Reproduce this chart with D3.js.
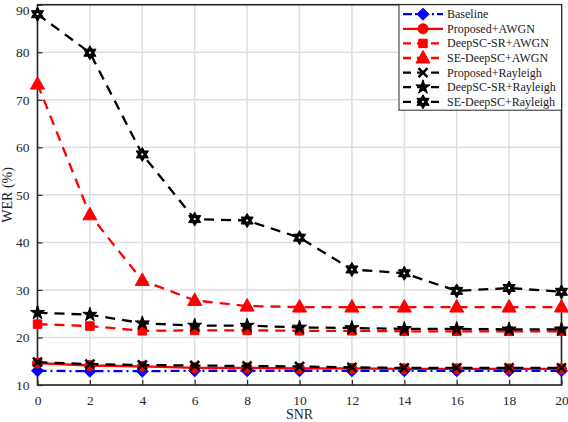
<!DOCTYPE html>
<html>
<head>
<meta charset="utf-8">
<script src="https://cdn.jsdelivr.net/npm/d3@7"></script>
<style>
  body { margin: 0; background: #fff; }
  svg { display: block; font-family: "Liberation Serif", "Times New Roman", serif; }
</style>
</head>
<body>
<div id="chart"></div>
<script>
// SNR values on the x axis
var snr = [0, 2, 4, 6, 8, 10, 12, 14, 16, 18, 20];

// WER (%) for each scheme
var baseline        = [13.0, 12.9, 12.9, 13.0, 13.0, 13.0, 13.0, 13.0, 13.0, 13.0, 13.0];
var proposedAWGN    = [14.6, 14.1, 13.9, 13.6, 13.6, 13.5, 13.5, 13.4, 13.4, 13.4, 13.4];
var deepscsrAWGN    = [22.8, 22.4, 21.4, 21.5, 21.5, 21.4, 21.4, 21.3, 21.3, 21.3, 21.3];
var sedeepscAWGN    = [73.3, 45.8, 32.0, 27.8, 26.6, 26.4, 26.4, 26.4, 26.4, 26.4, 26.4];
var proposedRay     = [14.8, 14.4, 14.2, 14.1, 14.0, 13.9, 13.7, 13.6, 13.6, 13.6, 13.6];
var deepscsrRay     = [25.2, 24.8, 23.0, 22.5, 22.5, 22.1, 22.0, 21.8, 21.8, 21.7, 21.7];
var sedeepscRay     = [88.0, 79.9, 58.5, 44.9, 44.6, 41.0, 34.3, 33.5, 29.8, 30.4, 29.6];

var seriesNames = ["Baseline", "Proposed+AWGN", "DeepSC-SR+AWGN", "SE-DeepSC+AWGN",
                   "Proposed+Rayleigh", "DeepSC-SR+Rayleigh", "SE-DeepSC+Rayleigh"];

var xTicks = [0, 2, 4, 6, 8, 10, 12, 14, 16, 18, 20];
var yTicks = [10, 20, 30, 40, 50, 60, 70, 80, 90];

var series = [
  {name: seriesNames[0], values: baseline,     color: "#0000ff", dash: "9,4,2,4", marker: "diamond"},
  {name: seriesNames[1], values: proposedAWGN, color: "#ff0000", dash: null,      marker: "circle"},
  {name: seriesNames[2], values: deepscsrAWGN, color: "#ff0000", dash: "10,7",    marker: "square"},
  {name: seriesNames[3], values: sedeepscAWGN, color: "#ff0000", dash: "10,7",    marker: "triangle"},
  {name: seriesNames[4], values: proposedRay,  color: "#000000", dash: "10,7",    marker: "x"},
  {name: seriesNames[5], values: deepscsrRay,  color: "#000000", dash: "10,7",    marker: "star"},
  {name: seriesNames[6], values: sedeepscRay,  color: "#000000", dash: "10,7",    marker: "hexagram"}
];

var g = {};
g.fullWidth = 568;
g.fullHeight = 422;
g.margin = {top: 4.7, right: 6.5, bottom: 37, left: 37.5};
g.width = g.fullWidth - g.margin.left - g.margin.right;
g.height = g.fullHeight - g.margin.top - g.margin.bottom;

g.x = d3.scaleLinear().range([0, g.width]).domain([0, 20]);
g.y = d3.scaleLinear().range([g.height, 0]).domain([10, 90]);

var svgRoot = d3.select("#chart")
  .append("svg")
    .attr("width", g.fullWidth)
    .attr("height", g.fullHeight);

g.svg = svgRoot.append("g")
  .attr("transform", "translate(" + g.margin.left + "," + g.margin.top + ")");

// grid
g.svg.append("g").selectAll("line").data(xTicks)
  .enter().append("line")
    .attr("x1", function(d) { return g.x(d); })
    .attr("x2", function(d) { return g.x(d); })
    .attr("y1", 0).attr("y2", g.height)
    .attr("stroke", "#dedede").attr("stroke-width", 1.5);

g.svg.append("g").selectAll("line").data(yTicks)
  .enter().append("line")
    .attr("y1", function(d) { return g.y(d); })
    .attr("y2", function(d) { return g.y(d); })
    .attr("x1", 0).attr("x2", g.width)
    .attr("stroke", "#dedede").attr("stroke-width", 1.5);

// axes (ticks pointing inward, MATLAB style)
g.xAxis = d3.axisBottom(g.x).tickValues(xTicks).tickSizeInner(-5).tickSizeOuter(0).tickPadding(10);
g.yAxis = d3.axisLeft(g.y).tickValues(yTicks).tickSizeInner(-5).tickSizeOuter(0).tickPadding(8);

var xa = g.svg.append("g")
  .attr("class", "x axis")
  .attr("transform", "translate(0," + g.height + ")")
  .call(g.xAxis);
var ya = g.svg.append("g")
  .attr("class", "y axis")
  .call(g.yAxis);

[xa, ya].forEach(function(a) {
  a.selectAll("text").style("font-size", "13.5px").attr("fill", "#262626")
    .style("font-family", "'Liberation Serif', serif");
  a.selectAll("line").attr("stroke", "#262626").attr("stroke-width", 1.2);
  a.select(".domain").remove();
});

// top label sits at the very edge; nudge it so it stays inside
ya.selectAll(".tick text").filter(function(d) { return d === 90; }).attr("dy", "0.75em");

// box around plot
g.svg.append("rect")
  .attr("x", 0).attr("y", 0)
  .attr("width", g.width).attr("height", g.height)
  .attr("fill", "none").attr("stroke", "#262626").attr("stroke-width", 1.6);

// axis labels
svgRoot.append("text")
  .attr("x", g.margin.left + g.width / 2)
  .attr("y", 419)
  .attr("text-anchor", "middle")
  .style("font-size", "14px")
  .attr("fill", "#262626")
  .text("SNR");

svgRoot.append("text")
  .attr("transform", "translate(12," + (g.margin.top + g.height / 2) + ") rotate(-90)")
  .attr("text-anchor", "middle")
  .style("font-size", "14px")
  .attr("fill", "#262626")
  .text("WER (%)");

// marker shapes
function hexagramPath(r) {
  var pts = [];
  var ri = r * 0.58;
  for (var i = 0; i < 12; i++) {
    var a = -Math.PI / 2 + i * Math.PI / 6;
    var rr = (i % 2 === 0) ? r : ri;
    pts.push([rr * Math.cos(a), rr * Math.sin(a)]);
  }
  return "M" + pts.map(function(p) { return p[0].toFixed(2) + "," + p[1].toFixed(2); }).join("L") + "Z";
}

function drawMarker(sel, type, color) {
  if (type === "x") {
    var s = 4.5;
    sel.append("path")
      .attr("d", "M" + (-s) + "," + (-s) + "L" + s + "," + s + "M" + (-s) + "," + s + "L" + s + "," + (-s))
      .attr("stroke", color).attr("stroke-width", 2.6).attr("fill", "none");
    return;
  }
  var d;
  if (type === "diamond") d = "M0,-6L6,0L0,6L-6,0Z";
  else if (type === "circle") d = d3.symbol().type(d3.symbolCircle).size(80)();
  else if (type === "square") d = d3.symbol().type(d3.symbolSquare).size(72)();
  else if (type === "triangle") d = "M0,-7.5L7,5L-7,5Z";
  else if (type === "star") d = d3.symbol().type(d3.symbolStar).size(62)();
  else if (type === "hexagram") d = hexagramPath(7);
  sel.append("path")
    .attr("d", d)
    .attr("fill", color)
    .attr("stroke", color)
    .attr("stroke-width", 1);
  if (type === "hexagram") {
    sel.append("circle").attr("r", 1.1).attr("fill", "#fff");
  }
}

g.valueline = d3.line()
  .x(function(d, i) { return g.x(snr[i]); })
  .y(function(d) { return g.y(d); });

// series
series.forEach(function(s) {
  var grp = g.svg.append("g");
  grp.append("path")
    .attr("d", g.valueline(s.values))
    .attr("fill", "none")
    .attr("stroke", s.color)
    .attr("stroke-width", 2.3)
    .attr("stroke-dasharray", s.dash);
  grp.selectAll("g.mk").data(s.values)
    .enter().append("g")
      .attr("class", "mk")
      .attr("transform", function(d, i) { return "translate(" + g.x(snr[i]) + "," + g.y(d) + ")"; })
      .each(function() { drawMarker(d3.select(this), s.marker, s.color); });
});

// legend
var lg = {x: 399, y: 4.7, w: 162.5, h: 105.5, row: 14.6};
var legend = svgRoot.append("g")
  .attr("transform", "translate(" + lg.x + "," + lg.y + ")");

legend.append("rect")
  .attr("width", lg.w).attr("height", lg.h)
  .attr("fill", "#fff")
  .attr("stroke", "#262626").attr("stroke-width", 1);

var item = legend.selectAll("g.item").data(series)
  .enter().append("g")
    .attr("class", "item")
    .attr("transform", function(d, i) { return "translate(0," + (9.5 + i * lg.row) + ")"; });

item.append("line")
  .attr("x1", 4).attr("x2", 44)
  .attr("stroke", function(d) { return d.color; })
  .attr("stroke-width", 2.3)
  .attr("stroke-dasharray", function(d) { return d.dash === null ? null : (d.marker === "diamond" ? "9,3,2,3" : "8,6"); });

item.each(function(d) {
  var m = d3.select(this).append("g").attr("transform", "translate(24,0)");
  drawMarker(m, d.marker, d.color);
});

item.append("text")
  .attr("x", 48)
  .attr("y", 4)
  .style("font-size", "12px")
  .attr("fill", "#1a1a1a")
  .text(function(d) { return d.name; });
</script>
</body>
</html>
